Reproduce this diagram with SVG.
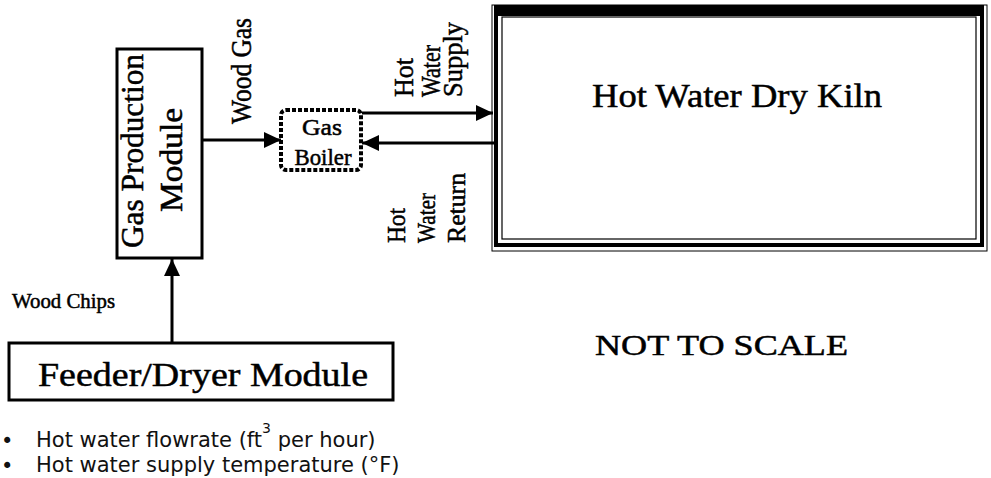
<svg xmlns="http://www.w3.org/2000/svg" width="991" height="478" viewBox="0 0 991 478">
<defs>
<style>
.serif{font-family:"Liberation Serif","Times New Roman",serif;fill:#000;stroke:#000;stroke-width:0.5}
.sans{font-family:Verdana,"DejaVu Sans",sans-serif;fill:#111;font-size:21px}
.box{fill:#fff;stroke:#000;stroke-width:3}
.line{stroke:#000;stroke-width:3;fill:none}
</style>
<marker id="arr" markerUnits="userSpaceOnUse" markerWidth="18" markerHeight="18" viewBox="0 0 18 18" refX="17" refY="9" orient="auto">
<path d="M0,1 L17,9 L0,17 Z" fill="#000"/>
</marker>
</defs>
<rect width="991" height="478" fill="#fff"/>

<g id="connectors">
<line class="line" x1="172" y1="343" x2="172" y2="259" marker-end="url(#arr)"/>
<line class="line" x1="202" y1="140" x2="281" y2="140" marker-end="url(#arr)"/>
<line class="line" x1="362" y1="113" x2="493" y2="113" marker-end="url(#arr)"/>
<line class="line" x1="494" y1="143" x2="362" y2="143" marker-end="url(#arr)"/>
</g>

<g id="gas-production">
<rect class="box" x="117" y="49" width="85" height="209"/>
<text class="serif" font-size="31" text-anchor="middle" transform="translate(143,151) rotate(-90)" textLength="194" lengthAdjust="spacingAndGlyphs">Gas Production</text>
<text class="serif" font-size="31" text-anchor="middle" transform="translate(182,160) rotate(-90)" textLength="104" lengthAdjust="spacingAndGlyphs">Module</text>
</g>

<g id="gas-boiler">
<rect x="281" y="110" width="80" height="60" rx="5" fill="#fff" stroke="#000" stroke-width="4" stroke-dasharray="4 2"/>
<text class="serif" font-size="23" x="322" y="135" text-anchor="middle" textLength="40" lengthAdjust="spacingAndGlyphs">Gas</text>
<text class="serif" font-size="23" x="323" y="165" text-anchor="middle" textLength="57" lengthAdjust="spacingAndGlyphs">Boiler</text>
</g>

<g id="kiln">
<rect x="492" y="5" width="495" height="246" fill="none" stroke="#000" stroke-width="1"/>
<rect x="496" y="9" width="486" height="236" fill="#fff" stroke="#000" stroke-width="4"/>
<rect x="494" y="5" width="490" height="11" fill="#000"/>
<rect x="502" y="17" width="474" height="222" fill="none" stroke="#000" stroke-width="1.2"/>
<text class="serif" font-size="34" x="737" y="107" text-anchor="middle" textLength="290" lengthAdjust="spacingAndGlyphs">Hot Water Dry Kiln</text>
</g>

<g id="feeder-dryer">
<rect class="box" x="9" y="343" width="384" height="57"/>
<text class="serif" font-size="34" x="38" y="386" textLength="330" lengthAdjust="spacingAndGlyphs">Feeder/Dryer Module</text>
</g>

<g id="labels">
<text class="serif" font-size="30" transform="translate(251,124) rotate(-90)" textLength="106" lengthAdjust="spacingAndGlyphs">Wood Gas</text>
<text class="serif" font-size="28" transform="translate(413,97) rotate(-90)" textLength="39" lengthAdjust="spacingAndGlyphs">Hot</text>
<text class="serif" font-size="28" transform="translate(440,97) rotate(-90)" textLength="52" lengthAdjust="spacingAndGlyphs">Water</text>
<text class="serif" font-size="28" transform="translate(462,97) rotate(-90)" textLength="75" lengthAdjust="spacingAndGlyphs">Supply</text>
<text class="serif" font-size="25" transform="translate(405,243) rotate(-90)" textLength="35" lengthAdjust="spacingAndGlyphs">Hot</text>
<text class="serif" font-size="25" transform="translate(435,243) rotate(-90)" textLength="50" lengthAdjust="spacingAndGlyphs">Water</text>
<text class="serif" font-size="25" transform="translate(465,243) rotate(-90)" textLength="70" lengthAdjust="spacingAndGlyphs">Return</text>
<text class="serif" font-size="21" x="12" y="308" textLength="103" lengthAdjust="spacingAndGlyphs">Wood Chips</text>
<text class="serif" font-size="30" x="595" y="355" textLength="253" lengthAdjust="spacingAndGlyphs">NOT TO SCALE</text>
</g>

<g id="notes">
<text class="sans" x="1" y="448" font-size="24">•</text>
<text class="sans" x="36" y="447">Hot water flowrate (ft<tspan font-size="14" dy="-14">3</tspan><tspan dy="14"> per hour)</tspan></text>
<text class="sans" x="1" y="473" font-size="24">•</text>
<text class="sans" x="36" y="472">Hot water supply temperature (°F)</text>
</g>
</svg>
